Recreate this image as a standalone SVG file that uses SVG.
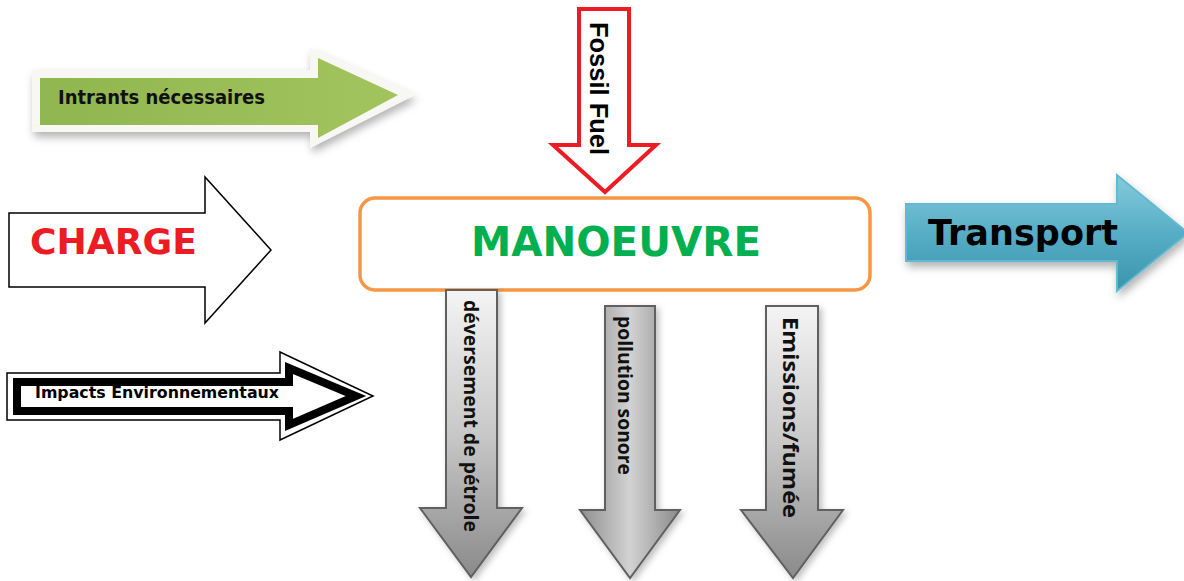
<svg xmlns="http://www.w3.org/2000/svg" width="1184" height="581" viewBox="0 0 1184 581">
<defs>
<style>
.lbl{font-family:"DejaVu Sans","Liberation Sans",sans-serif;font-weight:bold;}
.vt{font-family:"Open Sans","Liberation Sans",sans-serif;font-weight:bold;fill:#111;}
.gray{stroke:#606060;stroke-width:2;}
</style>
<filter id="sh" x="-10%" y="-20%" width="130%" height="150%">
<feDropShadow dx="2" dy="5" stdDeviation="4" flood-color="#000" flood-opacity="0.3"/>
</filter>
<filter id="sh2" x="-20%" y="-10%" width="150%" height="130%">
<feDropShadow dx="3" dy="3" stdDeviation="3" flood-color="#000" flood-opacity="0.25"/>
</filter>
<linearGradient id="gGreen" x1="0" y1="0" x2="1" y2="0">
<stop offset="0" stop-color="#8fb650"/>
<stop offset="1" stop-color="#a3c45d"/>
</linearGradient>
<linearGradient id="gBlue" x1="0" y1="0" x2="0" y2="1">
<stop offset="0" stop-color="#86cadb"/>
<stop offset="0.5" stop-color="#56aec6"/>
<stop offset="1" stop-color="#3a93ad"/>
</linearGradient>
<linearGradient id="gGray1" x1="0" y1="0" x2="0" y2="1">
<stop offset="0" stop-color="#f4f4f4"/>
<stop offset="0.5" stop-color="#c8c8c8"/>
<stop offset="1" stop-color="#8a8a8a"/>
</linearGradient>
<linearGradient id="gGray2" x1="0" y1="0" x2="1" y2="0">
<stop offset="0" stop-color="#8e8e8e"/>
<stop offset="0.5" stop-color="#d2d2d2"/>
<stop offset="1" stop-color="#8a8a8a"/>
</linearGradient>
</defs>

<g id="intrants">
<polygon points="32,70 310,70 310,48 415,95 310,148 310,132 32,132" fill="#f7f7f4" filter="url(#sh)"/>
<polygon points="40,78 318,78 318,58 398,95 318,138 318,125 40,125" fill="url(#gGreen)"/>
<text class="lbl" x="58" y="104" font-size="19" textLength="207" lengthAdjust="spacingAndGlyphs" fill="#111">Intrants nécessaires</text>
</g>

<g id="charge">
<polygon points="9,213 205,213 205,177 271,250 205,323 205,287 9,287" fill="#fff" stroke="#000" stroke-width="1.5"/>
<text class="lbl" x="30" y="254" font-size="35" textLength="167" lengthAdjust="spacingAndGlyphs" fill="#ed1c24">CHARGE</text>
</g>

<g id="impacts">
<polygon points="7,373 280,373 280,352 373,396 280,440 280,420 7,420" fill="#fff" stroke="#000" stroke-width="1.5"/>
<polygon points="17,382 289,382 289,368 356,396 289,425 289,411 17,411" fill="#fff" stroke="#000" stroke-width="8"/>
<text class="lbl" x="35" y="398" font-size="16" textLength="244" lengthAdjust="spacingAndGlyphs" fill="#000">Impacts Environnementaux</text>
</g>

<g id="fossil">
<polygon points="579,9 629,9 629,145 656,145 605,192 553,145 579,145" fill="#fff" stroke="#ed1c24" stroke-width="4"/>
<text transform="translate(590,22) rotate(90)" font-family="Liberation Sans, Arial, sans-serif" font-weight="bold" font-size="25" textLength="133" lengthAdjust="spacingAndGlyphs" fill="#000">Fossil Fuel</text>
</g>

<g id="manoeuvre">
<rect x="360" y="198" width="510" height="92" rx="15" ry="15" fill="#fff" stroke="#f79646" stroke-width="3.5"/>
<text class="lbl" x="616" y="256" font-size="41" text-anchor="middle" textLength="290" lengthAdjust="spacingAndGlyphs" fill="#00b050">MANOEUVRE</text>
</g>

<g id="transport">
<polygon points="906,204 1117,204 1117,175 1188,233 1117,291 1117,261 906,261" fill="url(#gBlue)" stroke="#62b9d0" stroke-width="2" filter="url(#sh)"/>
<text class="lbl" x="928" y="245" font-size="35" textLength="190" lengthAdjust="spacingAndGlyphs" fill="#000">Transport</text>
</g>

<g id="deversement">
<polygon class="gray" points="446,290 497,290 497,508 522,508 471,577 420,508 446,508" fill="url(#gGray1)" filter="url(#sh2)"/>
<text class="vt" transform="translate(464,300) rotate(90)" font-size="19" textLength="232" lengthAdjust="spacingAndGlyphs">déversement de pétrole</text>
</g>

<g id="pollution">
<polygon class="gray" points="605,306 655,306 655,510 680,510 630,578 580,510 605,510" fill="url(#gGray2)" filter="url(#sh2)"/>
<text class="vt" transform="translate(618,316) rotate(90)" font-size="19" textLength="159" lengthAdjust="spacingAndGlyphs">pollution sonore</text>
</g>

<g id="emissions">
<polygon class="gray" points="766,306 818,306 818,510 843,510 793,578 741,510 766,510" fill="url(#gGray1)" filter="url(#sh2)"/>
<text class="vt" transform="translate(783,317) rotate(90)" font-size="22" textLength="201" lengthAdjust="spacingAndGlyphs">Emissions/fumée</text>
</g>

<g id="connectors"></g>
</svg>
